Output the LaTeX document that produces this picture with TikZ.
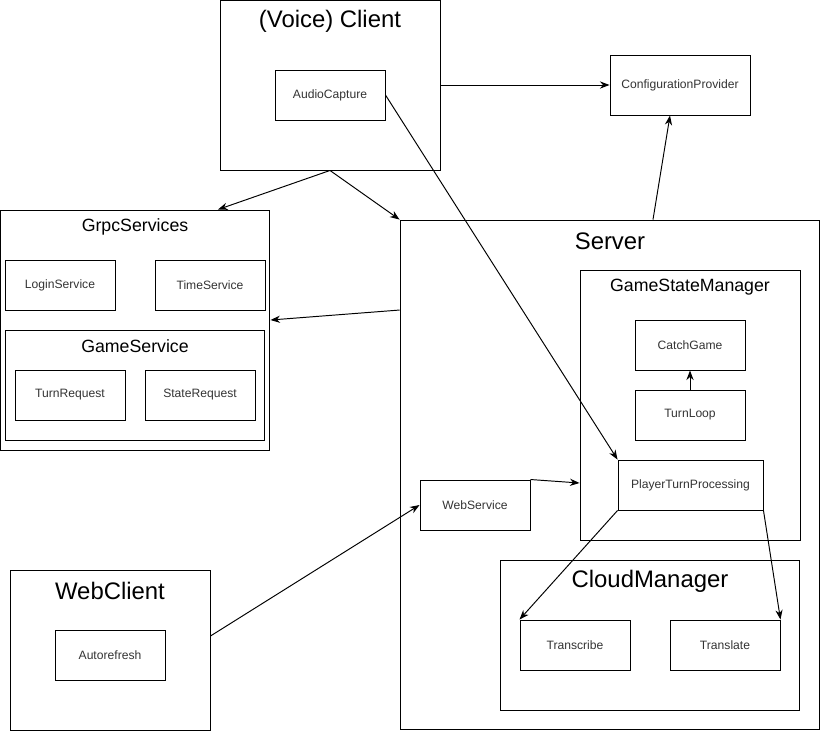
\documentclass[tikz,border=0pt]{standalone}
\usepackage{fontspec}
\setmainfont{Liberation Sans}
\usepackage{tikz}
\usetikzlibrary{arrows.meta,positioning,calc}

\begin{document}
\begin{tikzpicture}[x=0.02cm, y=-0.02cm, >=Stealth, line width=0.55pt,
  part/.style={draw, minimum width=2.2cm, minimum height=1cm, inner sep=0pt,
               font=\fontsize{6.9}{8}\selectfont, text=black!80},
  frame/.style={draw, inner sep=0pt},
  bigtitle/.style={font=\fontsize{13.6}{16}\selectfont},
  midtitle/.style={font=\fontsize{10.1}{12}\selectfont}]
  \useasboundingbox (0,0) rectangle (821,731);
  % containers
  \node[frame, minimum width=4.4cm, minimum height=3.4cm] (client) at (330,85) {};
  \node[bigtitle] (clientlbl) at (330,21) {(Voice) Client};
  \node[frame, minimum width=5.4cm, minimum height=4.8cm] (grpc) at (135,330) {};
  \node[midtitle] (grpclbl) at (135,227) {GrpcServices};
  \node[frame, minimum width=5.2cm, minimum height=2.2cm] (gamesvc) at (135,385) {};
  \node[midtitle] (gamesvclbl) at (135,346) {GameService};
  \node[frame, minimum width=8.4cm, minimum height=10.2cm] (server) at (610,475) {};
  \node[bigtitle] (serverlbl) at (610,241) {Server};
  \node[frame, minimum width=4.4cm, minimum height=5.4cm] (gsm) at (690,405) {};
  \node[midtitle] (gsmlbl) at (690,287) {GameStateManager};
  \node[frame, minimum width=6cm, minimum height=3cm] (cloud) at (650,635) {};
  \node[bigtitle] (cloudlbl) at (650,581) {CloudManager};
  \node[frame, minimum width=4cm, minimum height=3.2cm] (webclient) at (110,650) {};
  \node[bigtitle] (webclientlbl) at (110,591) {WebClient};
  % parts
  \node[part] (capture) at (330,95) {AudioCapture};
  \node[part, minimum width=2.8cm, minimum height=1.2cm] (config) at (680,85) {ConfigurationProvider};
  \node[part] (login) at (60,285) {LoginService};
  \node[part] (time) at (210,285) {TimeService};
  \node[part] (turnreq) at (70,395) {TurnRequest};
  \node[part] (statereq) at (200,395) {StateRequest};
  \node[part] (catch) at (690,345) {CatchGame};
  \node[part] (turnloop) at (690,415) {TurnLoop};
  \node[part, minimum width=2.9cm] (ptp) at (690.5,485) {PlayerTurnProcessing};
  \node[part] (websvc) at (475,505) {WebService};
  \node[part] (transcribe) at (575,645) {Transcribe};
  \node[part] (translate) at (725,645) {Translate};
  \node[part] (autorefresh) at (110,655) {Autorefresh};
  % connectors
  \draw[->] (client.east |- config.west) -- (config.west);
  \draw[->] ([xshift=0.86cm]server.north) -- ([xshift=-0.2cm]config.south);
  \draw[->] (client.south) -- ([xshift=1.66cm]grpc.north);
  \draw[->] (client.south) -- (server.north west);
  \draw[->] (capture.east) -- (ptp.north west);
  \draw[->] ([yshift=3.3cm]server.west) -- ([yshift=0.2cm]grpc.east);
  \draw[->] (turnloop.north) -- (catch.south);
  \draw[->] (websvc.north east) -- ([yshift=-1.56cm]gsm.west);
  \draw[->] ([yshift=0.28cm]webclient.east) -- (websvc.west);
  \draw[->] (ptp.south west) -- (transcribe.north west);
  \draw[->] (ptp.south east) -- (translate.north east);
\end{tikzpicture}
\end{document}
